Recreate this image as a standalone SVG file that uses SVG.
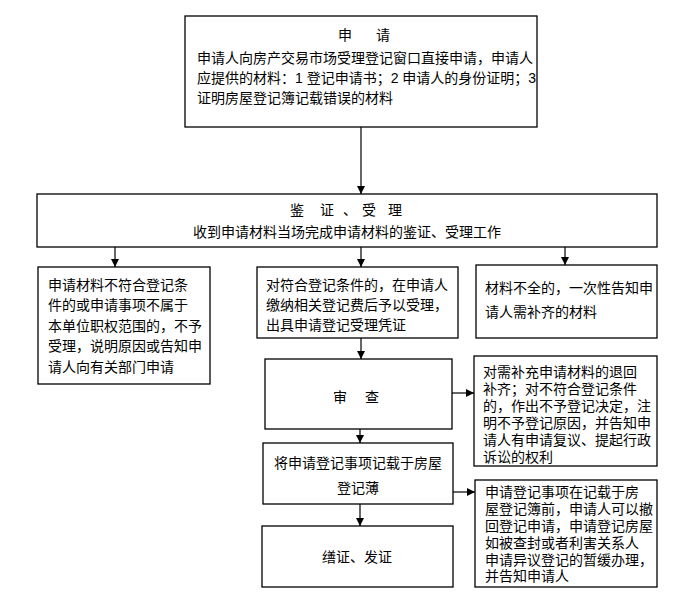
<svg xmlns="http://www.w3.org/2000/svg" width="675" height="604" viewBox="0 0 675 604">
<defs>
<style>
.box{fill:#fff;stroke:#000;stroke-width:1.3}
.t{font-family:"Liberation Sans","Noto Sans CJK SC",sans-serif;font-size:14px;fill:#000}
.c{text-anchor:middle}
.ln{stroke:#000;stroke-width:1.2;fill:none;marker-end:url(#ah)}
</style>
<marker id="ah" markerUnits="userSpaceOnUse" markerWidth="8" markerHeight="9" refX="8" refY="4" orient="auto">
<path d="M0,0 L8,4 L0,8 Z" fill="#000"/>
</marker>
</defs>
<rect width="675" height="604" fill="#fff"/>
<g id="connectors">
<line class="ln" x1="361" y1="127" x2="361" y2="194"/>
<line class="ln" x1="115" y1="247" x2="115" y2="267"/>
<line class="ln" x1="361" y1="247" x2="361" y2="267"/>
<line class="ln" x1="565" y1="247" x2="565" y2="265"/>
<line class="ln" x1="361" y1="338" x2="361" y2="359"/>
<line class="ln" x1="452" y1="393" x2="474" y2="393"/>
<line class="ln" x1="360" y1="429" x2="360" y2="443"/>
<line class="ln" x1="453" y1="492" x2="475" y2="492"/>
<line class="ln" x1="360" y1="504" x2="360" y2="526"/>
</g>
<g id="apply">
<rect class="box" x="185" y="16" width="352" height="111"/>
<text class="t" y="40"><tspan x="338">申</tspan><tspan x="376">请</tspan></text>
<text class="t" x="197" y="63">申请人向房产交易市场受理登记窗口直接申请，申请人</text>
<text class="t" x="197" y="83">应提供的材料：1 登记申请书；2 申请人的身份证明；3</text>
<text class="t" x="197" y="103">证明房屋登记簿记载错误的材料</text>
</g>
<g id="verify">
<rect class="box" x="37" y="194" width="620" height="53"/>
<text class="t" y="215"><tspan x="290">鉴</tspan><tspan x="320">证</tspan><tspan x="343">、</tspan><tspan x="362">受</tspan><tspan x="388">理</tspan></text>
<text class="t c" x="347" y="237">收到申请材料当场完成申请材料的鉴证、受理工作</text>
</g>
<g id="reject">
<rect class="box" x="38" y="267" width="172" height="117"/>
<text class="t" x="48" y="290">申请材料不符合登记条</text>
<text class="t" x="48" y="310">件的或申请事项不属于</text>
<text class="t" x="48" y="331">本单位职权范围的，不予</text>
<text class="t" x="48" y="351">受理，说明原因或告知申</text>
<text class="t" x="48" y="372">请人向有关部门申请</text>
</g>
<g id="accept">
<rect class="box" x="257" y="267" width="201" height="71"/>
<text class="t" x="266" y="290">对符合登记条件的，在申请人</text>
<text class="t" x="266" y="310">缴纳相关登记费后予以受理，</text>
<text class="t" x="266" y="330">出具申请登记受理凭证</text>
</g>
<g id="incomplete">
<rect class="box" x="476" y="265" width="181" height="73"/>
<text class="t" x="485" y="293">材料不全的，一次性告知申</text>
<text class="t" x="485" y="317">请人需补齐的材料</text>
</g>
<g id="review">
<rect class="box" x="265" y="359" width="187" height="70"/>
<text class="t" y="402"><tspan x="333">审</tspan><tspan x="365">查</tspan></text>
</g>
<g id="review-note">
<rect class="box" x="474" y="356" width="183" height="110"/>
<text class="t" x="483" y="377">对需补充申请材料的退回</text>
<text class="t" x="483" y="394">补齐；对不符合登记条件</text>
<text class="t" x="483" y="411">的，作出不予登记决定，注</text>
<text class="t" x="483" y="428">明不予登记原因，并告知申</text>
<text class="t" x="483" y="445">请人有申请复议、提起行政</text>
<text class="t" x="483" y="462">诉讼的权利</text>
</g>
<g id="record">
<rect class="box" x="263" y="443" width="190" height="61"/>
<text class="t c" x="358" y="468">将申请登记事项记载于房屋</text>
<text class="t c" x="358" y="493">登记薄</text>
</g>
<g id="record-note">
<rect class="box" x="475" y="480" width="182" height="107"/>
<text class="t" x="485" y="497">申请登记事项在记载于房</text>
<text class="t" x="485" y="514">屋登记簿前，申请人可以撤</text>
<text class="t" x="485" y="531">回登记申请，申请登记房屋</text>
<text class="t" x="485" y="548">如被查封或者利害关系人</text>
<text class="t" x="485" y="565">申请异议登记的暂缓办理，</text>
<text class="t" x="485" y="581">并告知申请人</text>
</g>
<g id="issue">
<rect class="box" x="262" y="526" width="191" height="61"/>
<text class="t c" x="357" y="562">缮证、发证</text>
</g>
</svg>
